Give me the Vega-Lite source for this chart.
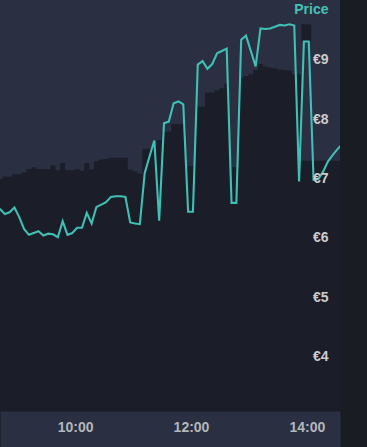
{
  "$schema": "https://vega.github.io/schema/vega-lite/v6.json",
  "width": 340,
  "height": 411,
  "autosize": {"type": "none"},
  "padding": {"left": 0, "top": 0, "right": 27, "bottom": 36},
  "background": "#1a1c24",
  "config": {
    "view": {"fill": "#2a2f41", "stroke": null},
    "font": "Liberation Sans",
    "scale": {"continuousPadding": 0}
  },
  "data": {
    "values": [
      {"time": "2024-01-01T08:42:00", "price": 6.49, "ref": 6.99},
      {"time": "2024-01-01T08:47:00", "price": 6.40, "ref": 7.03},
      {"time": "2024-01-01T08:52:00", "price": 6.43, "ref": 7.03},
      {"time": "2024-01-01T08:57:00", "price": 6.51, "ref": 7.07},
      {"time": "2024-01-01T09:02:00", "price": 6.35, "ref": 7.07},
      {"time": "2024-01-01T09:07:00", "price": 6.15, "ref": 7.10},
      {"time": "2024-01-01T09:12:00", "price": 6.05, "ref": 7.16},
      {"time": "2024-01-01T09:17:00", "price": 6.08, "ref": 7.19},
      {"time": "2024-01-01T09:22:00", "price": 6.11, "ref": 7.16},
      {"time": "2024-01-01T09:27:00", "price": 6.04, "ref": 7.16},
      {"time": "2024-01-01T09:32:00", "price": 6.07, "ref": 7.16},
      {"time": "2024-01-01T09:37:00", "price": 6.06, "ref": 7.22},
      {"time": "2024-01-01T09:42:00", "price": 6.01, "ref": 7.14},
      {"time": "2024-01-01T09:47:00", "price": 6.28, "ref": 7.26},
      {"time": "2024-01-01T09:52:00", "price": 6.05, "ref": 7.14},
      {"time": "2024-01-01T09:57:00", "price": 6.08, "ref": 7.14},
      {"time": "2024-01-01T10:02:00", "price": 6.17, "ref": 7.16},
      {"time": "2024-01-01T10:07:00", "price": 6.17, "ref": 7.13},
      {"time": "2024-01-01T10:12:00", "price": 6.42, "ref": 7.26},
      {"time": "2024-01-01T10:17:00", "price": 6.24, "ref": 7.15},
      {"time": "2024-01-01T10:22:00", "price": 6.52, "ref": 7.29},
      {"time": "2024-01-01T10:27:00", "price": 6.56, "ref": 7.32},
      {"time": "2024-01-01T10:32:00", "price": 6.60, "ref": 7.33},
      {"time": "2024-01-01T10:37:00", "price": 6.69, "ref": 7.35},
      {"time": "2024-01-01T10:42:00", "price": 6.70, "ref": 7.35},
      {"time": "2024-01-01T10:47:00", "price": 6.70, "ref": 7.35},
      {"time": "2024-01-01T10:52:00", "price": 6.69, "ref": 7.35},
      {"time": "2024-01-01T10:57:00", "price": 6.26, "ref": 7.15},
      {"time": "2024-01-01T11:02:00", "price": 6.24, "ref": 7.12},
      {"time": "2024-01-01T11:07:00", "price": 6.23, "ref": 7.08},
      {"time": "2024-01-01T11:12:00", "price": 7.09, "ref": 7.50},
      {"time": "2024-01-01T11:17:00", "price": 7.37, "ref": 7.50},
      {"time": "2024-01-01T11:22:00", "price": 7.64, "ref": 7.57},
      {"time": "2024-01-01T11:27:00", "price": 6.29, "ref": 7.65},
      {"time": "2024-01-01T11:32:00", "price": 7.93, "ref": 7.79},
      {"time": "2024-01-01T11:37:00", "price": 7.96, "ref": 7.79},
      {"time": "2024-01-01T11:42:00", "price": 8.27, "ref": 7.92},
      {"time": "2024-01-01T11:47:00", "price": 8.30, "ref": 7.92},
      {"time": "2024-01-01T11:52:00", "price": 8.25, "ref": 7.92},
      {"time": "2024-01-01T11:57:00", "price": 6.44, "ref": 7.21},
      {"time": "2024-01-01T12:02:00", "price": 6.44, "ref": 7.21},
      {"time": "2024-01-01T12:07:00", "price": 8.92, "ref": 8.21},
      {"time": "2024-01-01T12:12:00", "price": 8.98, "ref": 8.21},
      {"time": "2024-01-01T12:17:00", "price": 8.85, "ref": 8.45},
      {"time": "2024-01-01T12:22:00", "price": 8.93, "ref": 8.45},
      {"time": "2024-01-01T12:27:00", "price": 9.11, "ref": 8.49},
      {"time": "2024-01-01T12:32:00", "price": 9.15, "ref": 8.52},
      {"time": "2024-01-01T12:37:00", "price": 9.19, "ref": 8.60},
      {"time": "2024-01-01T12:42:00", "price": 6.59, "ref": 7.19},
      {"time": "2024-01-01T12:47:00", "price": 6.59, "ref": 7.19},
      {"time": "2024-01-01T12:52:00", "price": 9.34, "ref": 8.70},
      {"time": "2024-01-01T12:57:00", "price": 9.41, "ref": 8.73},
      {"time": "2024-01-01T13:02:00", "price": 9.15, "ref": 8.76},
      {"time": "2024-01-01T13:07:00", "price": 8.89, "ref": 8.83},
      {"time": "2024-01-01T13:12:00", "price": 9.53, "ref": 8.93},
      {"time": "2024-01-01T13:17:00", "price": 9.52, "ref": 8.89},
      {"time": "2024-01-01T13:22:00", "price": 9.53, "ref": 8.87},
      {"time": "2024-01-01T13:27:00", "price": 9.56, "ref": 8.86},
      {"time": "2024-01-01T13:32:00", "price": 9.59, "ref": 8.84},
      {"time": "2024-01-01T13:37:00", "price": 9.58, "ref": 8.83},
      {"time": "2024-01-01T13:42:00", "price": 9.60, "ref": 8.82},
      {"time": "2024-01-01T13:47:00", "price": 9.58, "ref": 8.76},
      {"time": "2024-01-01T13:52:00", "price": 6.95, "ref": 8.76},
      {"time": "2024-01-01T13:57:00", "price": 9.31, "ref": 7.30, "blockTop": 9.60, "blockBottom": 9.31},
      {"time": "2024-01-01T14:02:00", "price": 9.31, "ref": 7.30, "blockTop": 9.60, "blockBottom": 9.31},
      {"time": "2024-01-01T14:07:00", "price": 6.98, "ref": 7.30},
      {"time": "2024-01-01T14:12:00", "price": 6.99, "ref": 7.30},
      {"time": "2024-01-01T14:17:00", "price": 7.12, "ref": 7.30},
      {"time": "2024-01-01T14:22:00", "price": 7.29, "ref": 7.30},
      {"time": "2024-01-01T14:27:00", "price": 7.40, "ref": 7.30},
      {"time": "2024-01-01T14:32:00", "price": 7.50, "ref": 7.30},
      {"time": "2024-01-01T14:37:00", "price": 7.58, "ref": 7.30}
    ]
  },
  "resolve": {"axis": {"x": "independent"}},
  "layer": [
    {
      "mark": {"type": "area", "interpolate": "step", "color": "#1b1e28", "clip": true},
      "encoding": {
        "x": {
          "field": "time",
          "type": "temporal",
          "scale": {
            "domain": ["2024-01-01T08:42:04", "2024-01-01T14:34:24"],
            "padding": 0
          },
          "axis": {
            "title": null,
            "orient": "bottom",
            "offset": 18,
            "domainColor": "#2a2f41",
            "domainWidth": 36,
            "ticks": false,
            "labels": false,
            "grid": false,
            "zindex": 0
          }
        },
        "y": {
          "field": "ref",
          "type": "quantitative",
          "scale": {"domain": [3.08, 10.01], "zero": false, "nice": false},
          "axis": {
            "orient": "right",
            "title": "Price",
            "titleAngle": 0,
            "titleAlign": "right",
            "titleBaseline": "top",
            "titleX": -12,
            "titleY": 2,
            "titleColor": "#45c2b7",
            "titleFontSize": 14,
            "titleFontWeight": "bold",
            "values": [4, 5, 6, 7, 8, 9],
            "labelExpr": "'€' + datum.value",
            "labelAlign": "right",
            "labelBaseline": "middle",
            "labelPadding": -12,
            "labelFontSize": 14,
            "labelFontWeight": "bold",
            "labelColor": "#cbccce",
            "domain": false,
            "ticks": false,
            "grid": false,
            "zindex": 1
          }
        }
      }
    },
    {
      "mark": {"type": "bar", "color": "#1b1e28", "size": 4.9, "clip": true},
      "encoding": {
        "x": {"field": "time", "type": "temporal", "axis": null},
        "y": {"field": "blockTop", "type": "quantitative"},
        "y2": {"field": "blockBottom"}
      }
    },
    {
      "mark": {"type": "line", "color": "#40bfb4", "strokeWidth": 2.1, "clip": true},
      "encoding": {
        "x": {
          "field": "time",
          "type": "temporal",
          "axis": {
            "title": null,
            "orient": "bottom",
            "offset": 18,
            "domain": false,
            "ticks": false,
            "tickSize": 0,
            "grid": false,
            "format": "%H:%M",
            "values": [
              {"year": 2024, "month": 1, "date": 1, "hours": 10},
              {"year": 2024, "month": 1, "date": 1, "hours": 12},
              {"year": 2024, "month": 1, "date": 1, "hours": 14}
            ],
            "labelBaseline": "middle",
            "labelPadding": -2,
            "labelFontSize": 14,
            "labelFontWeight": "bold",
            "labelColor": "#b4b6bb",
            "labelFlush": false,
            "labelOverlap": false,
            "zindex": 1
          }
        },
        "y": {"field": "price", "type": "quantitative"}
      }
    }
  ]
}
